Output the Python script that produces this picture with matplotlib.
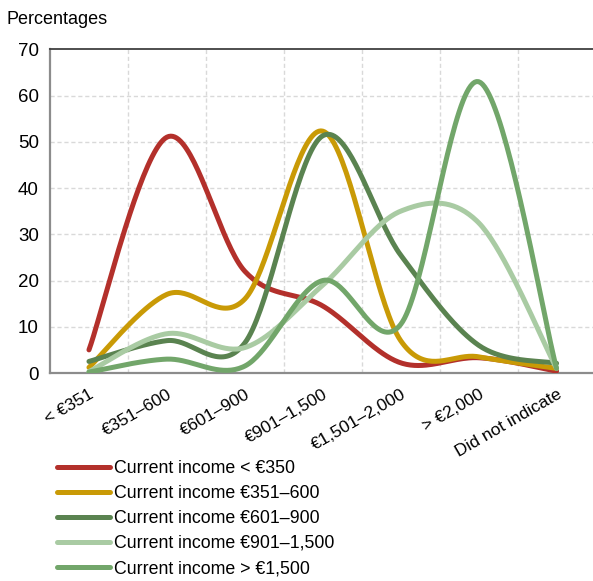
import numpy as np
import matplotlib
matplotlib.use("Agg")
import matplotlib.pyplot as plt

plt.rcParams["font.family"] = ["Liberation Sans", "DejaVu Sans"]

categories = ["< €351", "€351–600", "€601–900", "€901–1,500",
              "€1,501–2,000", "> €2,000", "Did not indicate"]

series_names = ["Current income < €350", "Current income €351–600",
                "Current income €601–900", "Current income €901–1,500",
                "Current income > €1,500"]

income_lt350 = [5.0, 51.0, 22.0, 14.5, 2.2, 3.3, 0.4]
income_351_600 = [1.2, 17.0, 16.0, 52.3, 7.0, 3.5, 1.0]
income_601_900 = [2.5, 7.0, 6.5, 51.3, 25.5, 6.0, 2.1]
income_901_1500 = [0.3, 8.5, 5.5, 19.0, 35.0, 32.5, 1.0]
income_gt1500 = [0.2, 3.0, 1.5, 20.0, 10.5, 63.0, 1.0]

series_values = [income_lt350, income_351_600, income_601_900,
                 income_901_1500, income_gt1500]
colors = ["#b3302b", "#c99a06", "#5a8350", "#a9cba3", "#72a66a"]


def smooth(xs, ys, n=40):
    """Uniform Catmull-Rom curve through the points (Bezier-style smoothing)."""
    xs = np.asarray(xs, float)
    ys = np.asarray(ys, float)
    px = np.concatenate([[xs[0]], xs, [xs[-1]]])
    py = np.concatenate([[ys[0]], ys, [ys[-1]]])
    out_x, out_y = [], []
    t = np.linspace(0, 1, n, endpoint=False)
    for i in range(1, len(px) - 2):
        p0x, p1x, p2x, p3x = px[i - 1:i + 3]
        p0y, p1y, p2y, p3y = py[i - 1:i + 3]
        c1x, c1y = p1x + (p2x - p0x) / 6, p1y + (p2y - p0y) / 6
        c2x, c2y = p2x - (p3x - p1x) / 6, p2y - (p3y - p1y) / 6
        b0, b1, b2, b3 = (1 - t) ** 3, 3 * (1 - t) ** 2 * t, 3 * (1 - t) * t ** 2, t ** 3
        out_x.append(b0 * p1x + b1 * c1x + b2 * c2x + b3 * p2x)
        out_y.append(b0 * p1y + b1 * c1y + b2 * c2y + b3 * p2y)
    out_x.append([xs[-1]])
    out_y.append([ys[-1]])
    return np.concatenate(out_x), np.concatenate(out_y)


fig = plt.figure(figsize=(5.93, 5.81), dpi=100)
ax = fig.add_axes([50 / 593, 1 - 373 / 581, 545.5 / 593, (373 - 49.3) / 581])

x = np.arange(len(categories))
for name, vals, col in zip(series_names, series_values, colors):
    sx, sy = smooth(x, vals)
    ax.plot(sx, sy, color=col, lw=3.6, solid_capstyle="round", label=name,
            zorder=3)

ax.set_xlim(-0.5, len(categories) - 0.5)
ax.set_ylim(0, 70)
ax.set_yticks(np.arange(0, 71, 10))
ax.set_xticks(x)
ax.set_xticklabels(categories, rotation=30, ha="right",
                   rotation_mode="anchor", fontsize=12.5)
ax.tick_params(axis="x", length=0, pad=10)
ax.tick_params(axis="y", length=0, pad=8, labelsize=13.5)

# dashed grid: horizontal at values, vertical between categories
for yv in range(10, 70, 10):
    ax.axhline(yv, color="#d9d9d9", lw=1, ls=(0, (3, 2)), zorder=1)
for xv in np.arange(0.5, len(categories) - 0.5, 1):
    ax.axvline(xv, color="#d9d9d9", lw=1, ls=(0, (3, 2)), zorder=1)

for side in ("left", "bottom"):
    ax.spines[side].set_color("#8c8c8c")
    ax.spines[side].set_linewidth(1.6)
ax.spines["top"].set_color("#404040")
ax.spines["top"].set_linewidth(1.3)
ax.spines["right"].set_visible(False)

fig.text(7 / 593, 1 - 19 / 581, "Percentages", ha="left", va="center",
         fontsize=13)

leg = fig.legend(loc="upper left", bbox_to_anchor=(57 / 593, 1 - 460 / 581),
                 frameon=False, fontsize=12.8, handlelength=3.0,
                 handletextpad=0.2, labelspacing=0.45, borderaxespad=0,
                 borderpad=0)
for line in leg.get_lines():
    line.set_linewidth(3.6)

fig.savefig("out.png", dpi=100)
